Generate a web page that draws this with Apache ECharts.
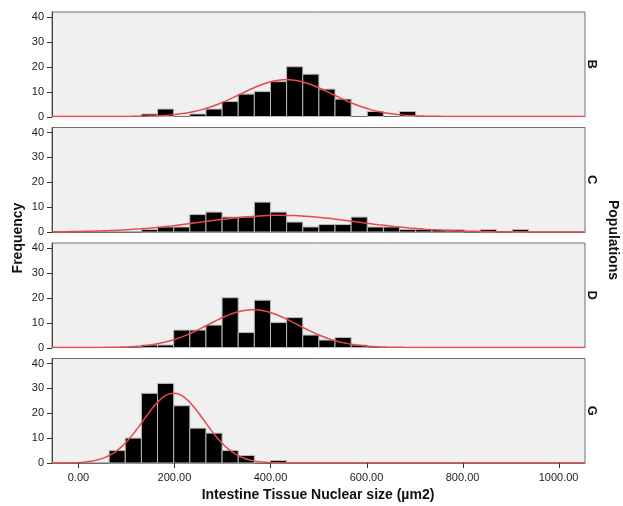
<!DOCTYPE html>
<html>
<head>
<meta charset="utf-8">
<script src="https://cdn.jsdelivr.net/npm/echarts@6/dist/echarts.min.js"></script>
<style>
  html, body { margin: 0; padding: 0; background: #ffffff; }
  #chart { width: 623px; height: 506px; }
</style>
</head>
<body>
<div id="chart"></div>
<script>
// Histogram bins shared by all panels (µm2)
const binStart = 64;
const binWidth = 33.6;

// Counts per bin, starting at binStart, one array per population
const populations = ['B', 'C', 'D', 'G'];
const countsB = [0, 0, 1, 3, 0, 1, 3, 6, 9, 10, 14, 20, 17, 11, 7, 0, 2, 0, 2];
const countsC = [0, 0, 1, 2, 2, 7, 8, 6, 6, 12, 8, 4, 2, 3, 3, 6, 2, 2, 1, 1, 1, 1, 0, 1, 0, 1];
const countsD = [0, 0, 1, 1, 7, 7, 9, 20, 6, 19, 10, 12, 5, 3, 4, 1];
const countsG = [5, 10, 28, 32, 23, 14, 12, 5, 3, 0, 1];
const allCounts = [countsB, countsC, countsD, countsG];

// Axis ranges, tick spacing and tick values
const xMin = -55, xMax = 1055;
const xTicks = [0, 200, 400, 600, 800, 1000];
const yMin = 0, yMax = 42, yStep = 10;
const yTicks = [0, 10, 20, 30, 40];

// Fitted normal curve (mean, sd from the binned counts), scaled to counts
function normalCurve(counts) {
  let n = 0, s = 0, s2 = 0;
  counts.forEach((c, k) => {
    const m = binStart + binWidth * (k + 0.5);
    n += c; s += c * m; s2 += c * m * m;
  });
  const mean = s / n;
  const sd = Math.sqrt((s2 - n * mean * mean) / (n - 1));
  const pts = [];
  for (let x = xMin; x <= xMax; x += 4) {
    const z = (x - mean) / sd;
    pts.push([x, n * binWidth * Math.exp(-0.5 * z * z) / (sd * Math.sqrt(2 * Math.PI))]);
  }
  return pts;
}

function binData(counts) {
  return counts.map((c, k) => [binStart + k * binWidth, binStart + (k + 1) * binWidth, c]);
}

const gridTop = [12, 127.5, 243, 358.5];
const gridH = 104.5;
const gridLeft = 52, gridRight = 38;
const tickLen = 5;
const tickColor = '#333';
const font = 'Liberation Sans, Arial, sans-serif';

const grids = [], xAxes = [], yAxes = [], series = [], graphics = [];

populations.forEach((name, i) => {
  const last = i === populations.length - 1;
  grids.push({
    left: gridLeft, right: gridRight, top: gridTop[i], height: gridH,
    show: true, backgroundColor: '#f0f0f0', borderColor: '#6e6e6e', borderWidth: 1
  });
  xAxes.push({
    type: 'value', gridIndex: i, min: xMin, max: xMax, position: 'bottom',
    axisLine: { show: true, onZero: false, lineStyle: { color: '#6e6e6e', width: 1 } },
    splitLine: { show: false },
    axisTick: { show: false },
    axisLabel: { show: last, margin: 9,
      showMinLabel: false, showMaxLabel: false,
      formatter: v => v.toFixed(2),
      fontFamily: font, fontSize: 11, color: '#222' },
    z: 1
  });
  yAxes.push({
    type: 'value', gridIndex: i, min: yMin, max: yMax, interval: yStep, position: 'left',
    axisLine: { show: true, onZero: false, lineStyle: { color: '#444', width: 1 } },
    splitLine: { show: false },
    axisTick: { show: false },
    axisLabel: { margin: 8, showMaxLabel: false,
      fontFamily: font, fontSize: 11, color: '#222' },
    z: 1
  });
  series.push({
    type: 'custom', xAxisIndex: i, yAxisIndex: i,
    data: binData(allCounts[i]),
    encode: { x: [0, 1], y: 2 },
    renderItem: function (params, api) {
      if (api.value(2) <= 0) return null;
      const p0 = api.coord([api.value(0), api.value(2)]);
      const p1 = api.coord([api.value(1), 0]);
      return {
        type: 'rect',
        shape: { x: p0[0], y: p0[1], width: p1[0] - p0[0], height: p1[1] - p0[1] },
        style: { fill: '#000000', stroke: '#b8b8b8', lineWidth: 1 }
      };
    },
    z: 2
  });
  series.push({
    type: 'line', xAxisIndex: i, yAxisIndex: i,
    data: normalCurve(allCounts[i]),
    showSymbol: false, smooth: false,
    lineStyle: { color: '#e8474d', width: 1.5 },
    z: 3
  });
  graphics.push({
    type: 'text', id: 'panel-' + name,
    x: 592, y: gridTop[i] + gridH / 2,
    rotation: -Math.PI / 2,
    style: { text: name, font: 'bold 13px ' + font, fill: '#111',
      align: 'center', verticalAlign: 'middle' }
  });
});

graphics.push({
  type: 'text', id: 'title-y', x: 18, y: 238, rotation: Math.PI / 2,
  style: { text: 'Frequency', font: 'bold 14px ' + font, fill: '#111',
    align: 'center', verticalAlign: 'middle' }
});
graphics.push({
  type: 'text', id: 'title-right', x: 613, y: 240, rotation: -Math.PI / 2,
  style: { text: 'Populations', font: 'bold 14px ' + font, fill: '#111',
    align: 'center', verticalAlign: 'middle' }
});
graphics.push({
  type: 'text', id: 'title-x', x: 318, y: 495,
  style: { text: 'Intestine Tissue Nuclear size (µm2)', font: 'bold 14px ' + font, fill: '#111',
    align: 'center', verticalAlign: 'middle' }
});

const chart = echarts.init(document.getElementById('chart'), null, { renderer: 'canvas' });
chart.setOption({
  animation: false,
  backgroundColor: '#ffffff',
  grid: grids,
  xAxis: xAxes,
  yAxis: yAxes,
  series: series,
  graphic: graphics
});

// Outward tick marks, placed through each panel's own axis scales
const tickMarks = [];
populations.forEach((name, i) => {
  yTicks.forEach(v => {
    const p = chart.convertToPixel({ xAxisIndex: i, yAxisIndex: i }, [xMin, v]);
    const y = Math.round(p[1]) + 0.5;
    tickMarks.push({
      type: 'line', id: 'ytick-' + i + '-' + v, silent: true, z: 10,
      shape: { x1: p[0] - tickLen, y1: y, x2: p[0], y2: y },
      style: { stroke: tickColor, lineWidth: 1 }
    });
  });
});
const lastPanel = populations.length - 1;
xTicks.forEach(v => {
  const p = chart.convertToPixel({ xAxisIndex: lastPanel, yAxisIndex: lastPanel }, [v, yMin]);
  const x = Math.round(p[0]) + 0.5;
  tickMarks.push({
    type: 'line', id: 'xtick-' + v, silent: true, z: 10,
    shape: { x1: x, y1: p[1], x2: x, y2: p[1] + tickLen },
    style: { stroke: tickColor, lineWidth: 1 }
  });
});
chart.setOption({ graphic: graphics.concat(tickMarks) });
</script>
</body>
</html>
